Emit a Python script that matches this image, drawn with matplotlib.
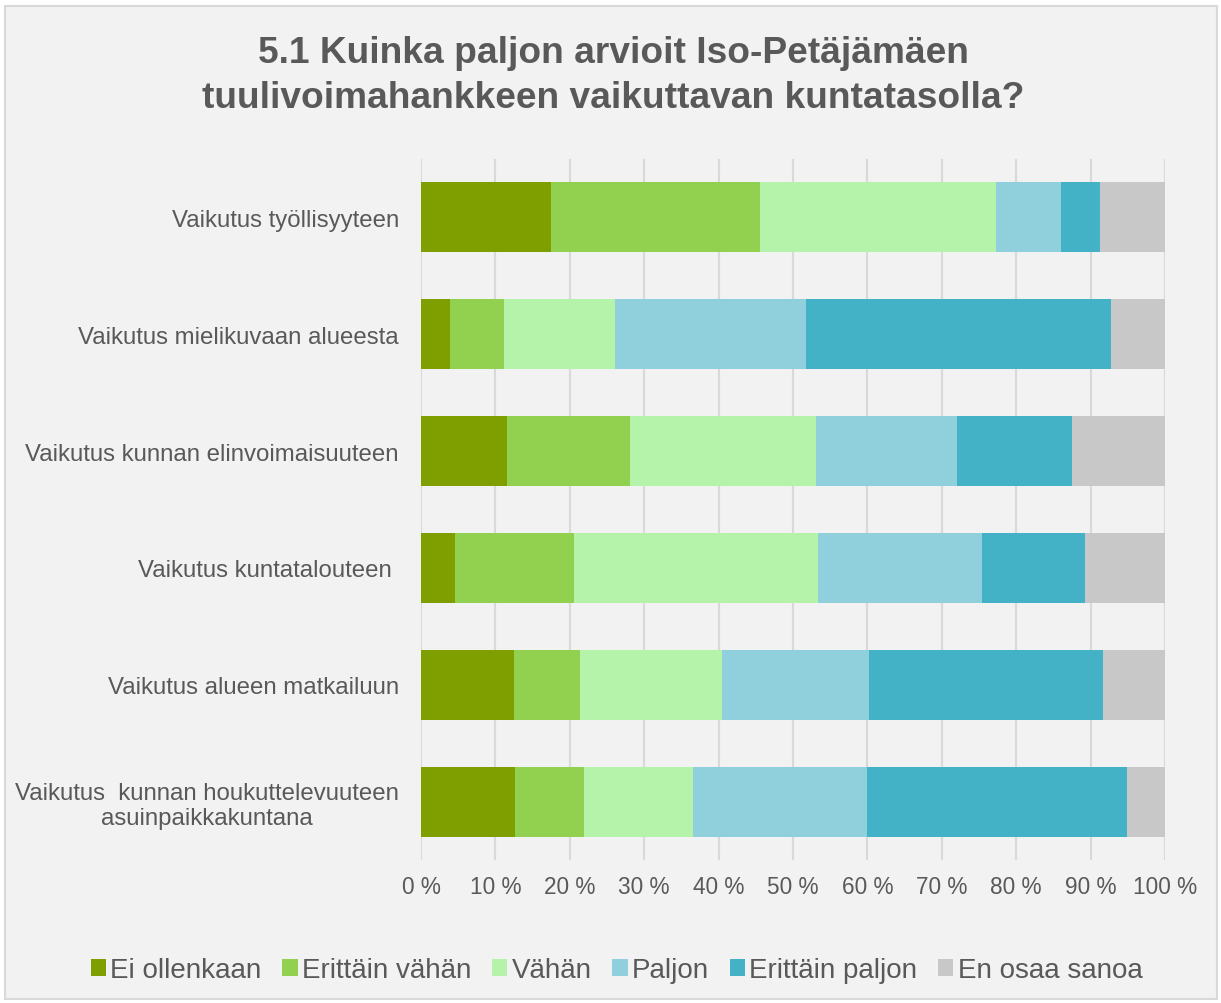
import matplotlib
matplotlib.use("Agg")
import matplotlib.pyplot as plt
from matplotlib.patches import Rectangle, Patch
from matplotlib.ticker import FixedLocator, FuncFormatter
import numpy as np

plt.rcParams["font.family"] = ["Liberation Sans", "DejaVu Sans"]

categories = [
    "Vaikutus työllisyyteen",
    "Vaikutus mielikuvaan alueesta",
    "Vaikutus kunnan elinvoimaisuuteen",
    "Vaikutus kuntatalouteen ",
    "Vaikutus alueen matkailuun",
    "Vaikutus  kunnan houkuttelevuuteen\nasuinpaikkakuntana",
]
series_names = ["Ei ollenkaan", "Erittäin vähän", "Vähän", "Paljon", "Erittäin paljon", "En osaa sanoa"]

# share of answers (%) per category
ei_ollenkaan = [17.5, 3.9, 11.5, 4.6, 12.5, 12.6]
erittain_vahan = [28.1, 7.3, 16.6, 16.0, 8.9, 9.3]
vahan = [31.7, 14.9, 25.0, 32.7, 19.1, 14.7]
paljon = [8.7, 25.6, 19.0, 22.1, 19.7, 23.3]
erittain_paljon = [5.3, 41.1, 15.4, 13.8, 31.5, 35.0]
en_osaa = [8.7, 7.2, 12.5, 10.8, 8.3, 5.1]

colors = ["#7F9F00", "#92D050", "#B5F2AA", "#8FD0DC", "#43B1C6", "#C8C8C8"]
text_color = "#595959"

values = np.array([ei_ollenkaan, erittain_vahan, vahan, paljon, erittain_paljon, en_osaa])
shares = values / values.sum(axis=0)

W, H = 1221, 1004
fig = plt.figure(figsize=(W / 100, H / 100), dpi=100, facecolor="white")
fig.patches.append(Rectangle((5 / W, 1 - 1000 / H), 1212 / W, 993 / H, transform=fig.transFigure,
                             facecolor="#F2F2F2", edgecolor="#D9D9D9", linewidth=1.5, zorder=-1))

ax = fig.add_axes((421 / W, 1 - 861 / H, 744 / W, (861 - 160) / H))
ax.set_facecolor("none")

y = np.arange(len(categories))
left = np.zeros(len(categories))
for name, row, color in zip(series_names, shares, colors):
    ax.barh(y, row, left=left, height=0.6, color=color, label=name, zorder=3)
    left += row

ax.set_xlim(0, 1)
ax.set_ylim(len(categories) - 0.5, -0.5)
ax.xaxis.set_major_locator(FixedLocator(np.linspace(0, 1, 11)))
ax.xaxis.set_major_formatter(FuncFormatter(lambda v, _: f"{round(v * 100):d} %"))
ax.set_yticks(y)
ax.set_yticklabels(categories, multialignment="center")
ax.grid(axis="x", color="#D9D9D9", linewidth=1.5, zorder=0)
ax.tick_params(axis="x", length=0, pad=11, labelsize=16.3, labelcolor=text_color)
ax.tick_params(axis="y", length=0, pad=16, labelsize=17.3, labelcolor=text_color)
for side in ["top", "right", "bottom", "left"]:
    ax.spines[side].set_visible(False)

fig.text(0.502, 1 - 76 / H, "5.1 Kuinka paljon arvioit Iso-Petäjämäen\ntuulivoimahankkeen vaikuttavan kuntatasolla?",
         ha="center", va="center", fontsize=26.7, fontweight="bold", color=text_color, linespacing=1.36)

handles = [Patch(facecolor=c, edgecolor="none") for c in colors]
fig.legend(handles, series_names, loc="center", bbox_to_anchor=(0.505, 1 - 971 / H), ncol=6, frameon=False,
           fontsize=20, labelcolor=text_color, handlelength=0.55, handleheight=0.55, handletextpad=0.15,
           columnspacing=0.75)

fig.savefig("out.png", dpi=100, facecolor="white")
